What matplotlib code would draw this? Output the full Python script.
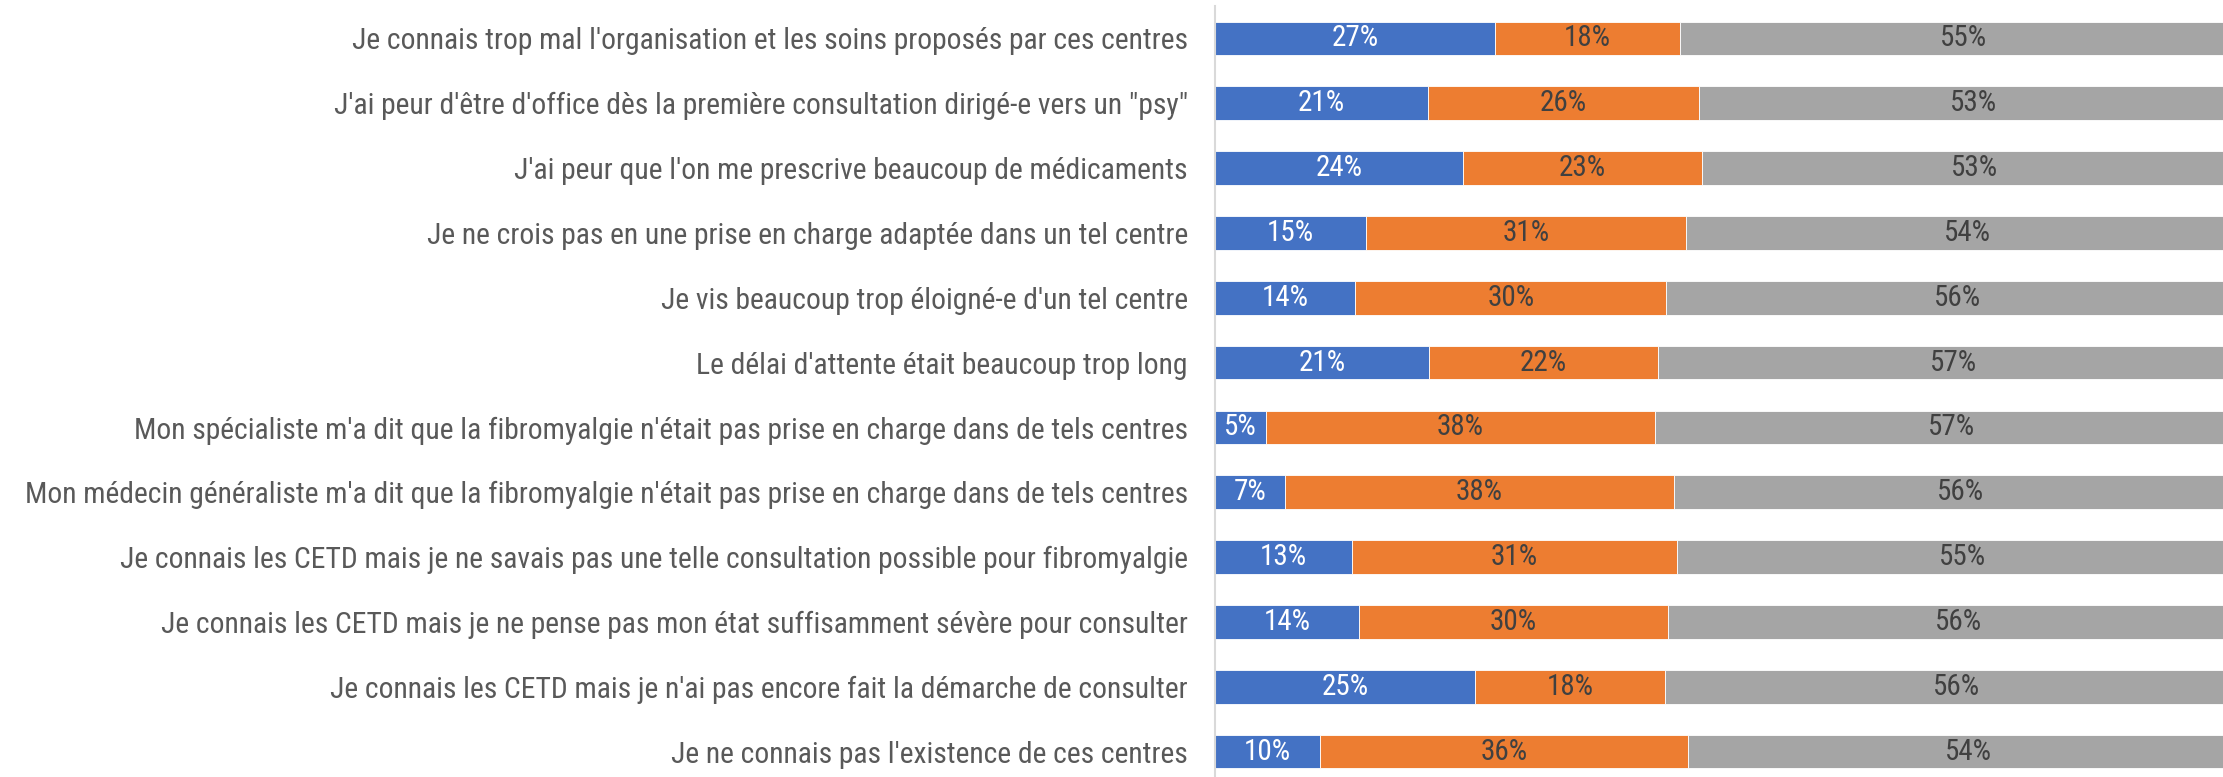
import matplotlib
matplotlib.use("Agg")
import matplotlib.pyplot as plt
import numpy as np

# Categories, top to bottom
categories = [
    "Je connais trop mal l'organisation et les soins proposés par ces centres",
    "J'ai peur d'être d'office dès la première consultation dirigé-e vers un \"psy\"",
    "J'ai peur que l'on me prescrive beaucoup de médicaments",
    "Je ne crois pas en une prise en charge adaptée dans un tel centre",
    "Je vis beaucoup trop éloigné-e d'un tel centre",
    "Le délai d'attente était beaucoup trop long",
    "Mon spécialiste m'a dit que la fibromyalgie n'était pas prise en charge dans de tels centres",
    "Mon médecin généraliste m'a dit que la fibromyalgie n'était pas prise en charge dans de tels centres",
    "Je connais les CETD mais je ne savais pas une telle consultation possible pour fibromyalgie",
    "Je connais les CETD mais je ne pense pas mon état suffisamment sévère pour consulter",
    "Je connais les CETD mais je n'ai pas encore fait la démarche de consulter",
    "Je ne connais pas l'existence de ces centres",
]

# Shares (%)
blue_vals = [27.1, 20.6, 24.0, 14.6, 13.6, 20.7, 4.9, 6.8, 13.3, 13.9, 25.2, 10.2]
orange_vals = [17.9, 26.3, 23.1, 31.0, 30.1, 22.2, 37.7, 37.6, 31.4, 30.0, 18.4, 35.6]
gray_vals = [55.0, 53.1, 52.9, 54.4, 56.3, 57.1, 57.4, 55.6, 55.3, 56.1, 56.4, 54.2]

colors = ["#4472C4", "#ED7D31", "#A5A5A5"]
label_colors = ["white", "#404040", "#404040"]

plt.rcParams["font.family"] = ["Roboto Condensed", "DejaVu Sans"]
plt.rcParams["font.stretch"] = "condensed"

W, H = 2223, 777
fig = plt.figure(figsize=(W / 100, H / 100), dpi=100)
ax = fig.add_axes([1215 / W, 1 - 784 / H, 1033 / W, 778 / H])

y = np.arange(len(categories))
left = np.zeros(len(categories))
for vals, col, lcol in zip([blue_vals, orange_vals, gray_vals], colors, label_colors):
    vals = np.array(vals)
    ax.barh(y, vals, left=left, height=0.52, color=col, edgecolor="white", linewidth=0.6)
    for yi, l, v in zip(y, left, vals):
        ax.text(l + v / 2, yi, f"{round(v)}%", ha="center", va="center",
                fontsize=21, color=lcol)
    left += vals

ax.set_xlim(0, 100)
ax.set_ylim(len(categories) - 0.5, -0.5)
ax.set_yticks(y)
ax.set_yticklabels(categories, fontsize=21.3, color="#595959")
ax.tick_params(axis="y", length=0, pad=19.5)
ax.set_xticks([])
for s in ["top", "right", "bottom"]:
    ax.spines[s].set_visible(False)
ax.spines["left"].set_color("#D9D9D9")
ax.spines["left"].set_linewidth(1.5)

fig.savefig("out.png", dpi=100)
